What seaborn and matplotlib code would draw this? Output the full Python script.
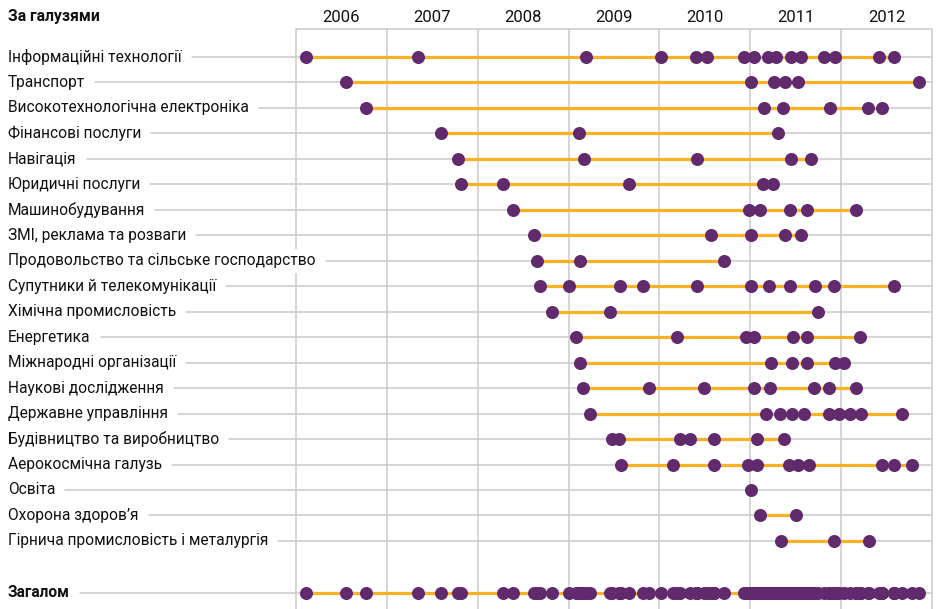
import numpy as np
import pandas as pd
import seaborn as sns
import matplotlib
matplotlib.use("Agg")
import matplotlib.pyplot as plt

# ---------------- data ----------------
categories = [
    "Інформаційні технології",
    "Транспорт",
    "Високотехнологічна електроніка",
    "Фінансові послуги",
    "Навігація",
    "Юридичні послуги",
    "Машинобудування",
    "ЗМІ, реклама та розваги",
    "Продовольство та сільське господарство",
    "Супутники й телекомунікації",
    "Хімічна промисловість",
    "Енергетика",
    "Міжнародні організації",
    "Наукові дослідження",
    "Державне управління",
    "Будівництво та виробництво",
    "Аерокосмічна галузь",
    "Освіта",
    "Охорона здоров’я",
    "Гірнича промисловість і металургія",
]
title_label = "За галузями"
total_label = "Загалом"
years = [2006, 2007, 2008, 2009, 2010, 2011, 2012]

it_dates = [2006.11, 2007.34, 2009.19, 2010.02, 2010.40, 2010.52, 2010.93, 2011.04,
            2011.19, 2011.28, 2011.45, 2011.56, 2011.81, 2011.93, 2012.41, 2012.58]
transport_dates = [2006.55, 2011.01, 2011.26, 2011.38, 2011.52, 2012.85]
hitech_dates = [2006.77, 2011.15, 2011.36, 2011.87, 2012.29, 2012.45]
finance_dates = [2007.60, 2009.11, 2011.30]
navigation_dates = [2007.79, 2009.17, 2010.41, 2011.45, 2011.67]
legal_dates = [2007.82, 2008.28, 2009.66, 2011.14, 2011.25]
machinery_dates = [2008.39, 2010.98, 2011.11, 2011.43, 2011.62, 2012.16]
media_dates = [2008.62, 2010.57, 2011.01, 2011.38, 2011.56]
food_dates = [2008.65, 2009.13, 2010.71]
satellite_dates = [2008.69, 2009.01, 2009.57, 2009.82, 2010.41, 2011.01, 2011.20,
                   2011.44, 2011.71, 2011.92, 2012.58]
chemical_dates = [2008.82, 2009.46, 2011.74]
energy_dates = [2009.08, 2010.19, 2010.95, 2011.04, 2011.47, 2011.62, 2012.20]
intl_dates = [2009.13, 2011.23, 2011.46, 2011.62, 2011.93, 2012.03]
research_dates = [2009.16, 2009.88, 2010.49, 2011.04, 2011.22, 2011.70, 2011.86, 2012.16]
government_dates = [2009.24, 2011.17, 2011.32, 2011.46, 2011.59, 2011.86, 2011.97,
                    2012.09, 2012.22, 2012.67]
construction_dates = [2009.48, 2009.56, 2010.23, 2010.34, 2010.60, 2011.07, 2011.37]
aerospace_dates = [2009.58, 2010.15, 2010.60, 2010.97, 2011.07, 2011.42, 2011.52,
                   2011.64, 2012.45, 2012.58, 2012.78]
education_dates = [2011.01]
health_dates = [2011.11, 2011.50]
mining_dates = [2011.34, 2011.92, 2012.30]

series = [it_dates, transport_dates, hitech_dates, finance_dates, navigation_dates,
          legal_dates, machinery_dates, media_dates, food_dates, satellite_dates,
          chemical_dates, energy_dates, intl_dates, research_dates, government_dates,
          construction_dates, aerospace_dates, education_dates, health_dates, mining_dates]

# ---------------- style ----------------
PURPLE = "#612a6c"
ORANGE = "#fbb124"
GRID = "#cacaca"
FONT = ["Roboto", "DejaVu Sans"]

W, H = 937, 609
PX_2006 = 295.7
PX_YEAR = 90.94
ROW0_PX = 57.0
ROW_PX = 25.47

sns.set_theme(style="white")
plt.rcParams["font.family"] = FONT

fig = plt.figure(figsize=(W / 100, H / 100), dpi=100)
ax = fig.add_axes([0, 0, 1, 1])
XL = (2006 - PX_2006 / PX_YEAR, 2006 + (W - PX_2006) / PX_YEAR)
YL = ((H - ROW0_PX) / ROW_PX, -ROW0_PX / ROW_PX)
ax.set_xlim(*XL)
ax.set_ylim(*YL)
ax.axis("off")

def py(px):
    return (px - ROW0_PX) / ROW_PX

x_end = years[-1] + 1
top_y = py(29)
bottom_y = py(H + 5)
label_x = XL[0] + 8 / PX_YEAR

# build long-form data
rows = []
for i, (cat, vals) in enumerate(zip(categories, series)):
    for v in vals:
        rows.append({"cat": cat, "pos": i, "date": v})
total_pos = len(categories) + 1.04
all_dates = [v for vals in series for v in vals]
for v in all_dates:
    rows.append({"cat": total_label, "pos": total_pos, "date": v})
df = pd.DataFrame(rows)

# vertical grid + frame top
for yr in years + [x_end]:
    ax.plot([yr, yr], [top_y, bottom_y], color=GRID, lw=1.1, zorder=1,
            solid_capstyle="butt")
ax.plot([years[0], x_end], [top_y, top_y], color=GRID, lw=1.1, zorder=1)

# year labels
for yr in years:
    ax.text(yr + 0.5, py(17), str(yr), ha="center", va="center",
            fontsize=12, color="#111111", zorder=5)

ax.text(label_x, py(17), title_label, ha="left", va="center", fontsize=11.3,
        fontweight="bold", color="#111111", zorder=5)

# labels with white background
label_texts = []
all_cats = categories + [total_label]
all_pos = list(range(len(categories))) + [total_pos]
for cat, p in zip(all_cats, all_pos):
    t = ax.text(label_x, p, cat, ha="left", va="center", fontsize=11.2,
                color="#111111", zorder=4,
                fontweight="bold" if cat == total_label else "normal",
                bbox=dict(boxstyle="square,pad=0.3", fc="white", ec="none"))
    label_texts.append(t)

fig.canvas.draw()
renderer = fig.canvas.get_renderer()
inv = ax.transData.inverted()
for t, p in zip(label_texts, all_pos):
    bb = t.get_window_extent(renderer=renderer)
    x0 = inv.transform((bb.x1 + 10, 0))[0]
    ax.plot([x0, x_end], [p, p], color=GRID, lw=1.1, zorder=2)

# orange range lines
rng = df.groupby("pos")["date"].agg(["min", "max"]).reset_index()
ax.hlines(rng["pos"], rng["min"], rng["max"], color=ORANGE, lw=2.3, zorder=3)

# dots
sns.scatterplot(data=df, x="date", y="pos", ax=ax, color=PURPLE, s=88,
                linewidth=0, zorder=6, legend=False)
ax.set_xlim(*XL)
ax.set_ylim(*YL)
ax.axis("off")

fig.savefig("out.png", dpi=100, facecolor="white")
